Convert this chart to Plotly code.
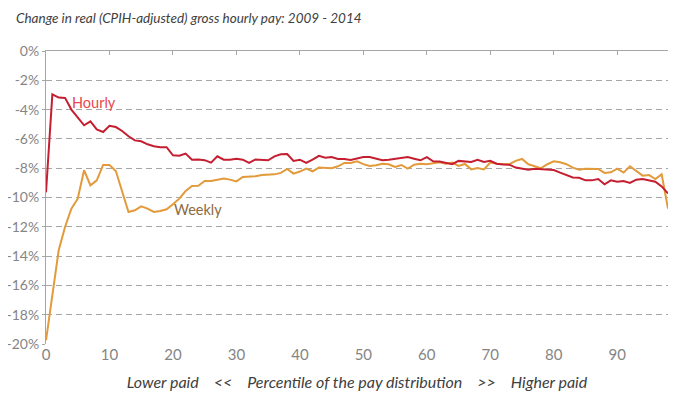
import plotly.graph_objects as go

percentile = list(range(0, 99))

hourly = [
    -9.65, -2.96, -3.18, -3.2, -4.0, -4.55, -5.07, -4.8, -5.35, -5.53,
    -5.1, -5.19, -5.46, -5.82, -6.1, -6.16, -6.37, -6.5, -6.57, -6.57,
    -7.12, -7.15, -7.0, -7.42, -7.4, -7.45, -7.62, -7.19, -7.42, -7.42,
    -7.35, -7.42, -7.64, -7.4, -7.44, -7.46, -7.19, -7.05, -7.03, -7.5,
    -7.42, -7.64, -7.42, -7.16, -7.28, -7.24, -7.37, -7.37, -7.44, -7.33,
    -7.24, -7.24, -7.37, -7.46, -7.42, -7.37, -7.33, -7.24, -7.35, -7.46,
    -7.24, -7.53, -7.55, -7.64, -7.73, -7.5, -7.53, -7.57, -7.42, -7.57,
    -7.5, -7.69, -7.75, -7.76, -7.96, -8.03, -8.1, -8.03, -8.05, -8.08,
    -8.12, -8.3, -8.49, -8.63, -8.65, -8.83, -8.83, -8.74, -9.1, -8.83,
    -8.92, -8.88, -9.01, -8.78, -8.74, -8.83, -8.92, -9.24, -9.72,
]

weekly = [
    -19.75, -16.56, -13.6, -12.01, -10.76, -10.08, -8.14, -9.17, -8.83, -7.78,
    -7.78, -8.19, -9.51, -10.99, -10.87, -10.6, -10.76, -10.99, -10.92, -10.8,
    -10.46, -10.08, -9.56, -9.21, -9.2, -8.87, -8.87, -8.8, -8.71, -8.78,
    -8.9, -8.6, -8.6, -8.55, -8.46, -8.44, -8.42, -8.32, -8.05, -8.37,
    -8.23, -8.03, -8.21, -7.96, -7.98, -8.0, -7.87, -7.64, -7.64, -7.53,
    -7.72, -7.85, -7.8, -7.69, -7.73, -7.92, -7.78, -8.03, -7.76, -7.69,
    -7.73, -7.69, -7.6, -7.69, -7.62, -7.85, -7.71, -8.08, -7.98, -8.08,
    -7.62, -7.69, -7.71, -7.73, -7.5, -7.37, -7.73, -7.87, -8.0, -7.73,
    -7.53, -7.6, -7.73, -7.96, -8.1, -8.03, -8.03, -8.05, -8.32, -8.28,
    -8.03, -8.3, -7.87, -8.19, -8.51, -8.46, -8.74, -8.42, -10.76,
]

y_ticks = [0, -2, -4, -6, -8, -10, -12, -14, -16, -18, -20]
y_tick_labels = [f"{v}%" for v in y_ticks]
x_ticks = list(range(0, 100, 10))

fig = go.Figure()
fig.add_trace(go.Scatter(x=percentile, y=weekly, mode="lines", name="Weekly",
                         line=dict(color="#E29A3B", width=2), hoverinfo="skip"))
fig.add_trace(go.Scatter(x=percentile, y=hourly, mode="lines", name="Hourly",
                         line=dict(color="#C41E30", width=2), hoverinfo="skip"))

x_tick_font = dict(family="Lato, sans-serif", size=15, color="#858585")
y_tick_font = dict(family="Lato, sans-serif", size=14, color="#858585")
sp = "&nbsp;" * 4
x_title = f"<i>Lower paid{sp}&lt;&lt;{sp}Percentile of the pay distribution{sp}&gt;&gt;{sp}Higher paid</i>"

fig.update_layout(
    width=674, height=390,
    margin=dict(l=38, r=14, t=43, b=54, autoexpand=False),
    paper_bgcolor="white", plot_bgcolor="white",
    showlegend=False,
    title=dict(text="<i>Change in real (CPIH-adjusted) gross hourly pay: 2009 - 2014</i>",
               x=8 / 674, xanchor="left", y=1 - 10 / 390, yanchor="middle",
               font=dict(family="Lato, sans-serif", size=13.5, color="#404040")),
    xaxis=dict(range=[0, 98], tickvals=x_ticks, showgrid=False, zeroline=False,
               showline=False, ticks="", tickfont=x_tick_font, automargin=False,
               title=dict(text=x_title,
                          font=dict(family="Lato, sans-serif", size=16, color="#404040"),
                          standoff=14)),
    xaxis2=dict(range=[0, 98], tickvals=x_ticks, overlaying="x", side="top",
                anchor="y", showline=True, linecolor="#A6A6A6", linewidth=1,
                ticks="inside", ticklen=4, tickcolor="#A6A6A6", automargin=False,
                showticklabels=False, showgrid=False, zeroline=False),
    yaxis=dict(range=[-20, 0], tickvals=y_ticks, ticktext=y_tick_labels,
               showgrid=True, gridcolor="#A6A6A6", gridwidth=1, griddash="6px,4px",
               zeroline=False, showline=True, linecolor="#A6A6A6", linewidth=1,
               ticks="outside", ticklen=3, tickcolor="#A6A6A6", automargin=False,
               tickfont=y_tick_font),
    annotations=[
        dict(x=7.5, y=-3.5, text="Hourly", showarrow=False,
             font=dict(family="Lato, sans-serif", size=14.5, color="#E8474F")),
        dict(x=24, y=-10.85, text="Weekly", showarrow=False,
             font=dict(family="Lato, sans-serif", size=14.5, color="#8C6B3F")),
    ],
)

# invisible trace to activate the top axis
fig.add_trace(go.Scatter(x=[0, 98], y=[None, None], xaxis="x2", mode="lines",
                         showlegend=False, hoverinfo="skip"))

fig.write_html("out.html")
